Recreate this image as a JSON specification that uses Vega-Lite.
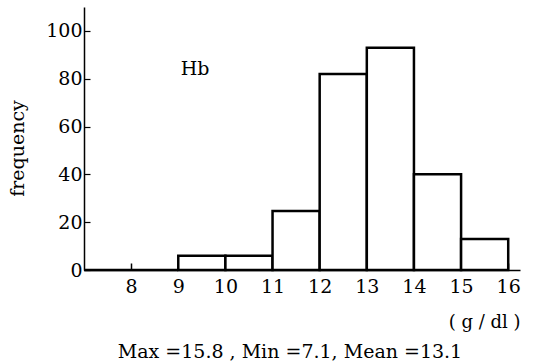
{
  "$schema": "https://vega.github.io/schema/vega-lite/v6.json",
  "width": 436,
  "height": 263,
  "autosize": {"type": "none"},
  "padding": {"left": 84, "top": 7, "right": 17, "bottom": 94},
  "background": "white",
  "config": {
    "view": {"stroke": null},
    "font": "DejaVu Serif",
    "axis": {"grid": false, "domainColor": "black", "tickColor": "black", "labelColor": "black", "titleColor": "black", "labelFont": "DejaVu Serif", "titleFont": "DejaVu Serif", "titleFontWeight": "normal"}
  },
  "title": {
    "text": "Max =15.8 ,  Min =7.1,  Mean =13.1",
    "orient": "bottom",
    "anchor": "middle",
    "font": "DejaVu Serif",
    "fontSize": 19,
    "fontWeight": "normal",
    "color": "black",
    "dx": -12,
    "offset": 12
  },
  "datasets": {
    "bins": [
      {"lo": 7, "hi": 8, "count": 0},
      {"lo": 8, "hi": 9, "count": 0},
      {"lo": 9, "hi": 10, "count": 6},
      {"lo": 10, "hi": 11, "count": 6},
      {"lo": 11, "hi": 12, "count": 24.7},
      {"lo": 12, "hi": 13, "count": 82},
      {"lo": 13, "hi": 14, "count": 93},
      {"lo": 14, "hi": 15, "count": 40},
      {"lo": 15, "hi": 16, "count": 13}
    ],
    "note": [{"x": 9.05, "y": 84, "label": "Hb"}]
  },
  "layer": [
    {
      "data": {"name": "bins"},
      "mark": {"type": "rect", "fill": "white", "stroke": "black", "strokeWidth": 2.5},
      "encoding": {
        "x": {"field": "lo", "type": "quantitative", "scale": {"domain": [7, 16.25], "nice": false, "zero": false},
          "axis": {"values": [8, 9, 10, 11, 12, 13, 14, 15, 16], "labelFontSize": 19, "tickSize": -7, "tickWidth": 1.5, "domainWidth": 1.5, "labelPadding": 14,
            "title": "( g / dl )", "titleFontSize": 18, "titleX": 436, "titleY": 52, "titleAlign": "right", "titleBaseline": "middle", "titleAnchor": "end"}},
        "x2": {"field": "hi"},
        "y": {"field": "count", "type": "quantitative", "scale": {"domain": [0, 110], "nice": false},
          "axis": {"values": [0, 20, 40, 60, 80, 100], "labelFontSize": 19, "tickSize": -6, "tickWidth": 1.2, "domainWidth": 1.5, "labelPadding": 8,
            "title": "frequency", "titleFontSize": 19, "titleX": -67, "titleY": 141, "titleAlign": "center", "titleBaseline": "middle"}},
        "y2": {"datum": 0}
      }
    },
    {
      "data": {"name": "note"},
      "mark": {"type": "text", "align": "left", "baseline": "middle", "fontSize": 19, "font": "DejaVu Serif", "color": "black"},
      "encoding": {
        "x": {"field": "x", "type": "quantitative"},
        "y": {"field": "y", "type": "quantitative"},
        "text": {"field": "label"}
      }
    }
  ]
}
